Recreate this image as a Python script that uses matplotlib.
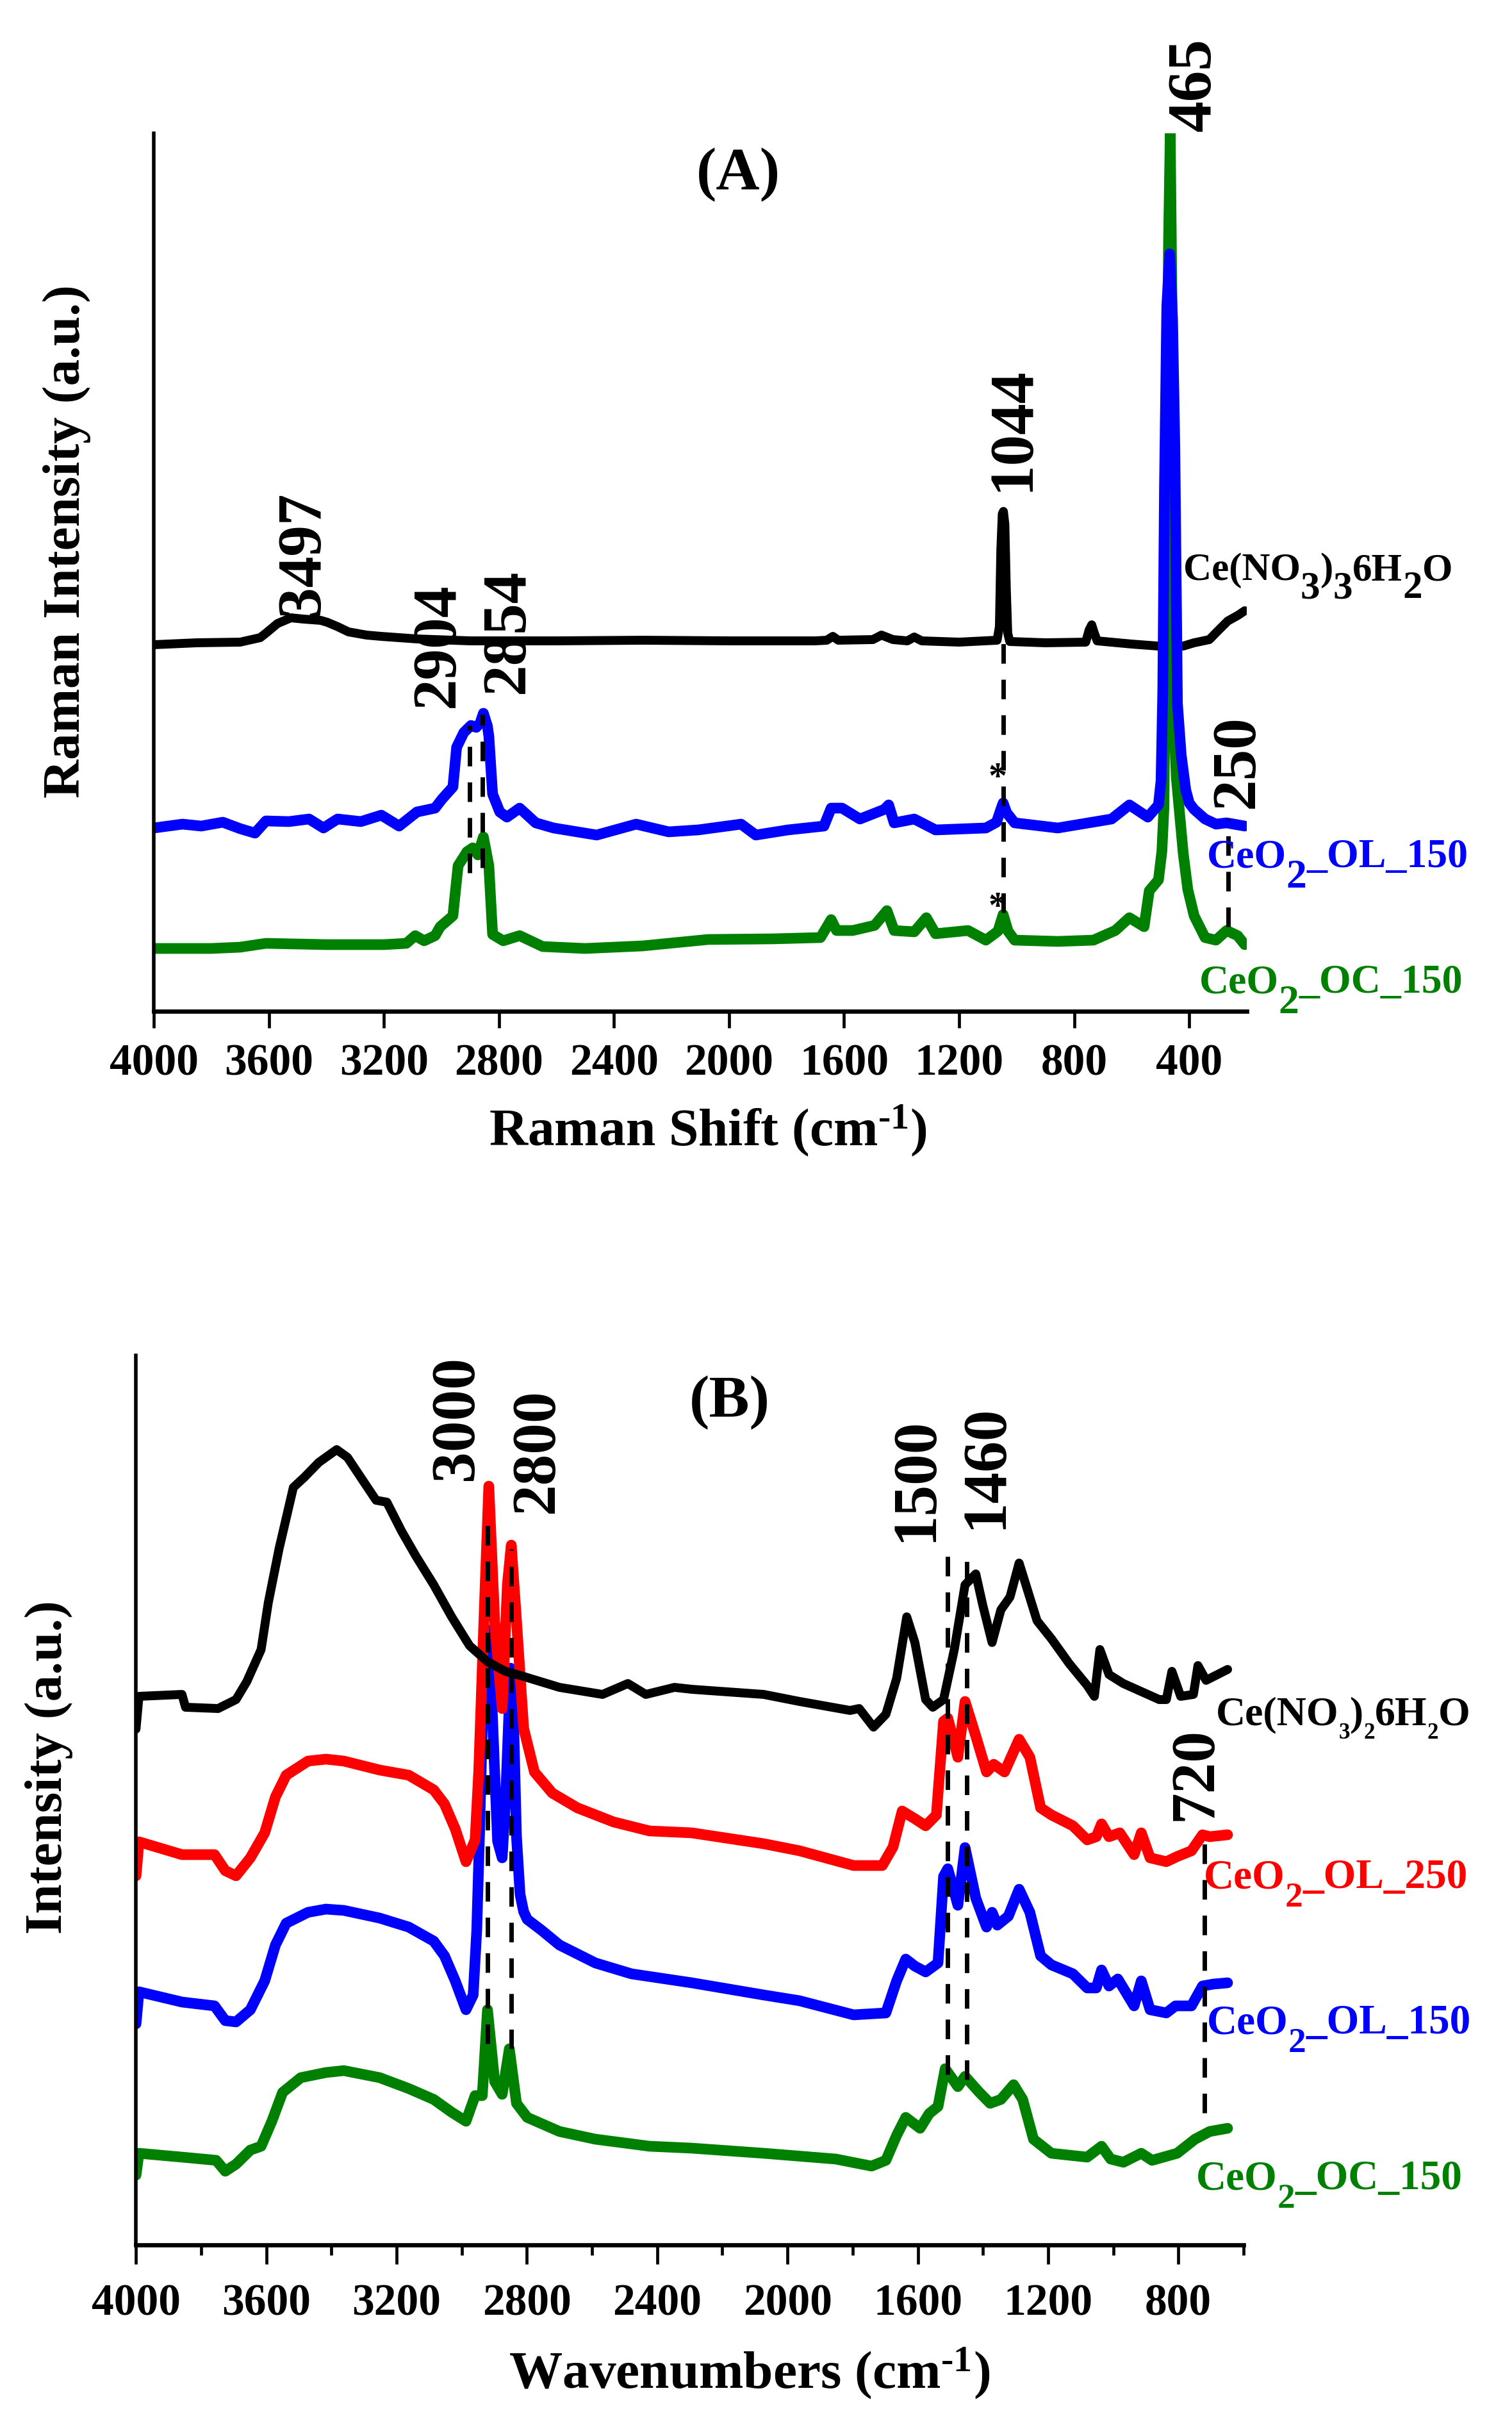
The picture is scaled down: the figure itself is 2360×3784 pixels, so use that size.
import matplotlib
matplotlib.use("Agg")
import matplotlib.pyplot as plt
from matplotlib.transforms import Bbox, TransformedBbox

plt.rcParams['font.family'] = ['Liberation Serif', 'DejaVu Serif']
plt.rcParams['font.weight'] = 'bold'
plt.rcParams['mathtext.fontset'] = 'custom'
plt.rcParams['mathtext.rm'] = 'Liberation Serif:bold'
plt.rcParams['mathtext.bf'] = 'Liberation Serif:bold'
plt.rcParams['mathtext.it'] = 'Liberation Serif:bold:italic'

# ---------------- panel A : Raman spectra ----------------
ramanNitrate_x = [4000, 3850, 3700, 3630, 3610, 3570, 3523, 3480, 3420, 3397, 3360, 3323, 3260, 3209,
                  3085, 2900, 2600, 2300, 2000, 1700, 1660, 1639, 1620, 1500, 1470, 1430, 1380, 1356,
                  1330, 1200, 1068, 1060, 1055, 1050, 1046, 1041, 1036, 1031, 1024, 900, 760, 748, 739,
                  730, 720, 600, 482, 420, 383, 330, 304, 266, 230, 207]
ramanNitrate_y = [57.2, 57.5, 57.6, 58.3, 59.0, 60.5, 61.4, 61.2, 61.0, 60.7, 60.0, 59.2, 58.7, 58.5,
                  58.1, 57.8, 57.8, 57.9, 57.8, 57.8, 57.9, 58.5, 57.9, 58.0, 58.7, 58.0, 57.8, 58.4,
                  57.8, 57.6, 57.9, 60.0, 72.0, 77.6, 78.0, 76.0, 66.0, 59.0, 57.7, 57.5, 57.6, 59.5, 60.3,
                  59.0, 57.8, 57.3, 56.9, 57.0, 57.5, 58.0, 59.2, 60.9, 61.8, 62.5]

ramanOL150_x = [4000, 3900, 3835, 3760, 3700, 3648, 3610, 3530, 3460, 3410, 3361, 3280, 3209, 3147,
                3085, 3022, 2998, 2960, 2947, 2922, 2897, 2879, 2865, 2854, 2840, 2835, 2822, 2797,
                2772, 2728, 2672, 2610, 2460, 2323, 2210, 2107, 1958, 1907, 1795, 1670, 1645, 1607,
                1545, 1460, 1445, 1426, 1356, 1282, 1107, 1070, 1055, 1047, 1035, 1007, 857, 670, 608,
                544, 507, 498, 492, 486, 478, 468, 458, 450, 441, 428, 412, 400, 383, 345, 307, 270, 207]
ramanOL150_y = [28.6, 29.2, 28.9, 29.5, 28.5, 27.8, 29.7, 29.6, 30.0, 28.6, 30.0, 29.6, 30.6, 28.9,
                31.1, 31.7, 33.1, 35.0, 41.2, 43.5, 44.6, 44.3, 45.0, 46.5, 44.5, 42.9, 33.9, 31.1,
                30.3, 31.7, 29.4, 28.6, 27.5, 29.2, 28.0, 28.3, 29.2, 27.5, 28.3, 28.9, 31.7, 31.7,
                30.0, 31.5, 32.2, 29.4, 30.0, 28.3, 28.6, 29.5, 31.5, 32.5, 31.0, 29.4, 28.6, 30.0, 32.2,
                30.3, 32.2, 36.0, 50.0, 82.0, 110.0, 118.2, 108.0, 88.0, 48.0, 40.0, 34.5, 32.5, 31.5,
                30.0, 29.2, 29.4, 28.9]

ramanOC150_x = [4000, 3800, 3700, 3610, 3400, 3200, 3122, 3091, 3060, 3022, 3004, 2960, 2942, 2911,
                2891, 2873, 2854, 2835, 2822, 2785, 2728, 2648, 2500, 2300, 2073, 1850, 1682, 1645,
                1626, 1570, 1494, 1451, 1426, 1356, 1314, 1282, 1169, 1107, 1065, 1047, 1030, 1007,
                857, 733, 657, 608, 557, 539, 507, 495, 488, 480, 472, 466, 460, 455, 452, 445, 421,
                405, 383, 345, 307, 270, 232, 207]
ramanOC150_y = [9.8, 9.8, 10.0, 10.6, 10.4, 10.4, 10.6, 11.8, 11.0, 11.8, 13.2, 14.9, 22.7, 24.9,
                25.5, 24.4, 27.2, 22.7, 12.0, 11.0, 11.8, 10.1, 9.8, 10.2, 11.2, 11.3, 11.5, 14.3,
                12.6, 12.6, 13.4, 15.7, 12.6, 12.4, 14.6, 12.1, 12.6, 11.1, 12.5, 15.1, 12.5, 11.1,
                10.9, 11.1, 12.6, 14.6, 13.2, 18.8, 20.5, 25.0, 31.7, 70.0, 120.0, 137.0, 110.0, 70.0,
                44.0, 36.5, 24.7, 19.0, 14.9, 11.5, 11.1, 12.6, 11.8, 10.4]

ramanLines_x = [2901, 2857, 1047, 265]
ramanLines_top = [44.6, 46.3, 57.5, 30.0]
ramanLines_bottom = [21.6, 22.4, 15.4, 13.2]

ramanPeakText = ['3497', '2904', '2854', '1044', '465', '250']
ramanPeakText_x = [3479, 3010, 2768, 1011, 381, 231]
ramanPeakText_y = [61.7, 47.4, 49.6, 81.1, 137.3, 31.7]

ramanStar_x = [1065, 1065]
ramanStar_y = [34.9, 14.7]

# sample labels: pieces of (text, is_subscript)
ramanNames = [[('Ce(NO', 0), ('3', 1), (')', 0), ('3', 1), ('6H', 0), ('2', 1), ('O', 0)],
              [('CeO', 0), ('2', 1), ('_OL_150', 0)],
              [('CeO', 0), ('2', 1), ('_OC_150', 0)]]
ramanName_x = [421, 339, 366]
ramanName_y = [67.3, 22.5, 2.9]
ramanName_size = [22, 23, 23]
ramanSub_scale = [1.0, 1.0, 1.0]
ramanSub_drop = [28, 32, 32]

# ---------------- panel B : FTIR spectra ----------------
irNitrate_x = [4000, 3991, 3859, 3848, 3748, 3693, 3660, 3616, 3594, 3561, 3517, 3483, 3439, 3384,
               3351, 3296, 3263, 3230, 3185, 3141, 3086, 3031, 2976, 2921, 2866, 2810, 2700, 2568,
               2490, 2435, 2347, 2294, 2073, 1963, 1808, 1780, 1736, 1698, 1665, 1634, 1609, 1576,
               1554, 1521, 1488, 1455, 1422, 1400, 1372, 1345, 1317, 1289, 1234, 1190, 1135, 1080,
               1058, 1041, 1013, 969, 859, 837, 820, 793, 754, 740, 715, 649]
irNitrate_y = [80.5, 85.6, 85.9, 83.9, 83.7, 85.1, 87.9, 92.9, 100.2, 108.6, 118.2, 119.8, 122.1, 124.1,
               122.9, 118.7, 116.2, 115.9, 111.4, 107.5, 103.0, 98.0, 93.5, 91.0, 89.5, 88.7, 87.0, 85.9,
               87.6, 85.9, 87.0, 86.7, 85.9, 84.8, 83.4, 83.7, 80.8, 82.8, 88.4, 98.0, 94.0, 85.1,
               83.9, 85.1, 92.9, 103.0, 104.7, 99.7, 94.0, 99.1, 101.1, 106.4, 97.4, 94.6, 90.7, 87.3,
               85.6, 92.9, 89.0, 87.6, 85.1, 85.1, 89.5, 85.6, 85.9, 90.4, 88.1, 89.8]

irOL250_x = [4000, 3991, 3859, 3759, 3726, 3693, 3649, 3605, 3572, 3539, 3472, 3417, 3362, 3252, 3163,
             3086, 3053, 3020, 2987, 2959, 2948, 2932, 2917, 2899, 2876, 2860, 2848, 2832, 2810, 2777,
             2722, 2645, 2534, 2424, 2294, 2073, 1963, 1797, 1709, 1676, 1648, 1609, 1576, 1543,
             1521, 1508, 1477, 1455, 1422, 1389, 1367, 1334, 1289, 1256, 1223, 1190, 1124, 1080,
             1052, 1036, 1013, 980, 936, 914, 887, 837, 804, 760, 726, 704, 649]
irOL250_y = [57.6, 62.9, 60.9, 60.9, 58.4, 57.6, 60.4, 64.3, 69.9, 73.3, 75.5, 75.8, 75.5, 74.1, 73.3,
             71.0, 68.8, 64.9, 59.8, 63.2, 73.8, 97.4, 118.4, 97.4, 83.7, 103.0, 109.2, 97.4, 80.6, 73.8,
             70.5, 68.2, 66.0, 64.6, 64.3, 62.6, 61.5, 59.2, 59.2, 62.1, 67.7, 66.5, 65.4, 67.1,
             81.7, 82.2, 76.1, 84.8, 79.4, 73.8, 75.0, 73.8, 78.9, 76.1, 68.2, 67.1, 65.4, 63.2,
             63.7, 65.7, 63.7, 64.3, 60.9, 64.3, 60.4, 59.8, 60.6, 61.5, 64.0, 63.7, 64.0]

irOL150_x = [4000, 3991, 3859, 3759, 3726, 3693, 3649, 3605, 3572, 3539, 3472, 3417, 3362, 3252, 3163,
             3086, 3053, 3020, 2987, 2965, 2954, 2945, 2935, 2922, 2910, 2900, 2890, 2876, 2865, 2850,
             2840, 2832, 2821, 2810, 2799, 2755, 2700, 2590, 2479, 2294, 2073, 1963, 1797, 1698,
             1665, 1637, 1609, 1576, 1538, 1521, 1508, 1477, 1455, 1422, 1389, 1372, 1356, 1322,
             1289, 1256, 1223, 1190, 1124, 1080, 1052, 1036, 1013, 986, 936, 914, 887, 837, 809,
             760, 726, 693, 649]
irOL150_y = [34.5, 39.5, 37.9, 37.3, 35.0, 34.8, 36.7, 41.2, 46.8, 50.2, 51.9, 52.4, 52.2, 51.0, 49.6,
             47.4, 45.1, 41.2, 36.7, 39.0, 49.1, 65.0, 85.0, 96.0, 88.0, 75.0, 63.0, 60.4, 70.0, 90.0,
             80.0, 63.7, 54.7, 52.0, 50.8, 49.1, 46.8, 44.0, 42.3, 40.9, 39.0, 38.1, 35.9, 36.2,
             41.2, 44.6, 43.5, 42.6, 44.0, 57.5, 58.7, 53.0, 62.0, 54.1, 49.6, 51.9, 49.9, 51.3,
             55.5, 51.9, 45.1, 43.7, 42.3, 40.1, 40.1, 42.9, 40.4, 41.5, 37.3, 41.2, 36.7, 36.2, 37.3,
             37.3, 40.4, 40.7, 40.9]

irOC150_x = [4000, 3991, 3859, 3754, 3726, 3693, 3649, 3616, 3583, 3550, 3494, 3417, 3362, 3252, 3163,
             3086, 3031, 2987, 2959, 2937, 2921, 2899, 2876, 2854, 2832, 2799, 2700, 2590, 2424, 2294,
             2073, 1852, 1742, 1698, 1665, 1637, 1593, 1565, 1538, 1516, 1477, 1455, 1411, 1378,
             1345, 1306, 1278, 1245, 1190, 1080, 1036, 1008, 969, 914, 881, 804, 749, 704, 649]
irOC150_y = [10.9, 14.3, 13.7, 13.2, 11.5, 12.6, 14.8, 15.4, 19.3, 23.8, 26.1, 26.9, 27.2, 26.1, 24.4,
             22.7, 20.7, 19.3, 23.3, 23.3, 36.7, 25.5, 23.5, 30.6, 22.1, 19.9, 17.7, 16.5, 15.4, 15.1,
             14.3, 13.4, 12.3, 13.2, 17.1, 19.9, 18.2, 20.5, 21.6, 27.5, 24.7, 26.3, 23.8, 22.1,
             22.7, 25.0, 22.7, 16.5, 14.3, 13.7, 15.4, 13.4, 12.9, 14.3, 13.2, 14.3, 16.5, 17.7, 18.2]

irLines_x = [2921, 2848, 1508, 1449, 720]
irLines_top = [112.6, 108.6, 108.3, 108.6, 63.3]
irLines_bottom = [31.4, 30.6, 26.6, 25.8, 20.6]

irPeakText = ['3000', '2800', '1500', '1460', '720']
irPeakText_x = [3014, 2766, 1604, 1389, 746]
irPeakText_y = [119.3, 114.2, 109.7, 111.7, 66.2]

irNames = [[('Ce(NO', 0), ('3', 1), (')', 0), ('2', 1), ('6H', 0), ('2', 1), ('O', 0)],
           [('CeO', 0), ('2', 1), ('_OL_250', 0)],
           [('CeO', 0), ('2', 1), ('_OL_150', 0)],
           [('CeO', 0), ('2', 1), ('_OC_150', 0)]]
irName_x = [685, 722, 712, 746]
irName_y = [81.2, 55.7, 33.0, 8.7]
irName_size = [23, 23.5, 23.5, 23.5]
irSub_scale = [0.55, 0.85, 0.85, 0.85]
irSub_drop = [22, 29, 29, 29]

W, H = 2360, 3784
DPI = 200
fig = plt.figure(figsize=(W / DPI, H / DPI), dpi=DPI)

axA = fig.add_axes([240 / W, 1 - 1578 / H, 1706 / W, 1370 / H])
axB = fig.add_axes([212.3 / W, 1 - 3503 / H, 1728.7 / W, 1388 / H])

line_kw = dict(solid_capstyle='round', solid_joinstyle='round')
dash_kw = dict(color='black', lw=2.5, linestyle=(0, (4.4, 3.6)))


def sample_label(ax, x, y, pieces, color, size, sub_scale, sub_drop_px, clip=None):
    # write a formula label piece by piece so the subscripts can be big and low, like the original
    first = ax.text(x, y, pieces[0][0], color=color, fontsize=size, fontweight='bold',
                    ha='left', va='baseline', clip_on=False)
    prev = first
    for s, is_sub in pieces[1:]:
        fs = size * sub_scale if is_sub else size
        dy = 0.217 * (size - fs) - (sub_drop_px * 72 / DPI if is_sub else 0)
        prev = ax.annotate(s, xy=(1, 0), xycoords=(prev, first), xytext=(0, dy),
                           textcoords='offset points', ha='left', va='bottom', color=color,
                           fontsize=fs, fontweight='bold', annotation_clip=False)
    if clip is not None:
        prev.set_clip_box(clip)
        prev.set_clip_on(True)


# panel A curves
axA.plot(ramanNitrate_x, ramanNitrate_y, color='black', lw=5, **line_kw)
axA.plot(ramanOC150_x, ramanOC150_y, color='#008000', lw=6, **line_kw)
axA.plot(ramanOL150_x, ramanOL150_y, color='#0000ff', lw=6, **line_kw)
axA.vlines(ramanLines_x, ramanLines_bottom, ramanLines_top, **dash_kw)
for t, x, y in zip(ramanPeakText, ramanPeakText_x, ramanPeakText_y):
    axA.text(x, y, t, rotation=90, ha='center', va='bottom', fontsize=35, fontweight='bold', clip_on=False)
for x, y in zip(ramanStar_x, ramanStar_y):
    axA.text(x, y, '*', ha='center', va='baseline', fontsize=21, fontweight='bold')
colorsA = ['black', '#0000ff', '#008000']
for i in range(len(ramanNames)):
    sample_label(axA, ramanName_x[i], ramanName_y[i], ramanNames[i], colorsA[i],
                 ramanName_size[i], ramanSub_scale[i], ramanSub_drop[i])
axA.text(0.535, 0.953, '(A)', transform=axA.transAxes, ha='center', va='center', fontsize=34, fontweight='bold')

axA.set_xlim(4000, 200)
axA.set_ylim(0, 137)
axA.set_xticks(range(4000, 399, -400))
axA.tick_params(axis='x', direction='out', length=9.4, width=1.7, pad=8.6, labelsize=25)
axA.set_yticks([])
axA.set_xlabel(r'Raman Shift (cm$^{\text{-1}}$)', fontsize=30, fontweight='bold', va='center')
axA.xaxis.set_label_coords(0.507, -0.1365)
axA.set_ylabel('Raman Intensity (a.u.)', fontsize=30, fontweight='bold', va='center')
axA.yaxis.set_label_coords(-0.0797, 0.535)

# panel B curves (red over blue, black on top)
axB.plot(irOC150_x, irOC150_y, color='#008000', lw=6, **line_kw)
axB.plot(irOL150_x, irOL150_y, color='#0000ff', lw=6, **line_kw)
axB.plot(irOL250_x, irOL250_y, color='#ff0000', lw=6, **line_kw)
axB.plot(irNitrate_x, irNitrate_y, color='black', lw=5, **line_kw)
axB.vlines(irLines_x, irLines_bottom, irLines_top, **dash_kw)
for t, x, y in zip(irPeakText, irPeakText_x, irPeakText_y):
    axB.text(x, y, t, rotation=90, ha='center', va='bottom', fontsize=35, fontweight='bold', clip_on=False)
colorsB = ['black', '#ff0000', '#0000ff', '#008000']
clip = TransformedBbox(Bbox([[0, 0], [2293 / W, 1]]), fig.transFigure)
for i in range(len(irNames)):
    sample_label(axB, irName_x[i], irName_y[i], irNames[i], colorsB[i], irName_size[i],
                 irSub_scale[i], irSub_drop[i], clip=clip if i == 0 else None)
axB.text(0.536, 0.947, '(B)', transform=axB.transAxes, ha='center', va='center', fontsize=34, fontweight='bold')

axB.set_xlim(4000, 600)
axB.set_ylim(0, 138.8)
axB.set_xticks(range(4000, 799, -400))
axB.set_xticks(range(3800, 599, -400), minor=True)
axB.tick_params(axis='x', which='major', direction='out', length=10.8, width=1.7, pad=10.8, labelsize=25)
axB.tick_params(axis='x', which='minor', direction='out', length=5.8, width=1.7)
axB.set_yticks([])
axB.set_xlabel(r'Wavenumbers (cm$^{\text{-1}}$)', fontsize=30, fontweight='bold', va='center')
axB.xaxis.set_label_coords(0.554, -0.145)
axB.set_ylabel('Intensity (a.u.)', fontsize=30, fontweight='bold', va='center')
axB.yaxis.set_label_coords(-0.0788, 0.537)

for ax in (axA, axB):
    ax.spines['top'].set_visible(False)
    ax.spines['right'].set_visible(False)
    ax.spines['left'].set_linewidth(2.0)
    ax.spines['bottom'].set_linewidth(2.4)
    for lab in ax.get_xticklabels():
        lab.set_fontweight('bold')

fig.savefig('out.png', dpi=DPI)
